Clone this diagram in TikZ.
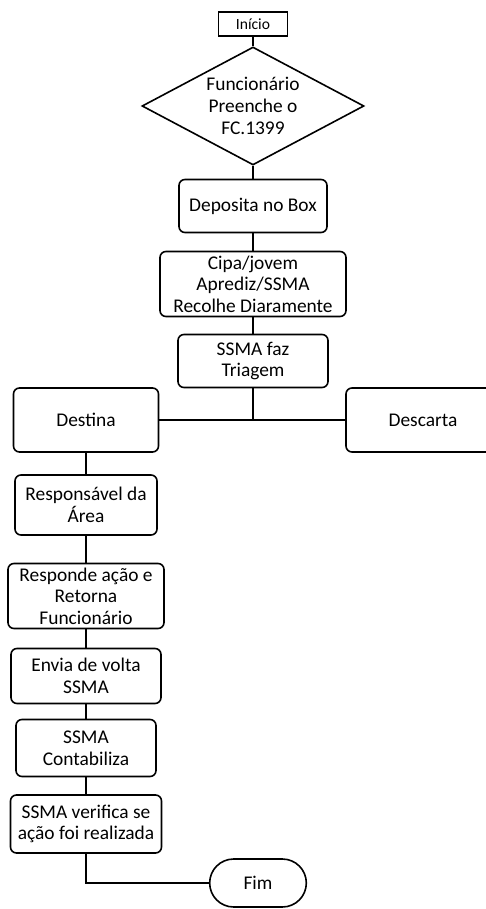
\documentclass[tikz,border=0pt]{standalone}
\usepackage{fontspec}
\setmainfont{Carlito}
\usetikzlibrary{shapes.geometric,shapes.misc,positioning}

\begin{document}
\begin{tikzpicture}[node distance=40pt,on grid,
    every node/.style={font=\fontsize{9.7}{10.8}\selectfont,align=center},
    etapa/.style={draw,line width=0.8pt,rounded corners=3pt,inner sep=0pt},
    fluxo/.style={line width=1.3pt}]
   \useasboundingbox (-126.5pt,12pt) rectangle (116.5pt,-442.5pt);
   \node[draw,line width=0.8pt,minimum width=34.5pt,minimum height=12pt,inner sep=0pt,
         font=\fontsize{7.8}{9}\selectfont] (inicio) {Início};
   \node[draw,diamond,line width=0.8pt,aspect=1.9,inner sep=0pt,
         minimum width=111pt,minimum height=59pt] (fc) [below=41pt of inicio]
         {Funcionário\\Preenche o\\FC.1399};
   \node[etapa,minimum width=74pt,minimum height=26.5pt] (dep) [below=50pt of fc] {Deposita no Box};
   \node[etapa,minimum width=93pt,minimum height=32.5pt] (cipa) [below=39pt of dep]
         {Cipa/jovem\\Aprediz/SSMA\\Recolhe Diaramente};
   \node[etapa,minimum width=75pt,minimum height=26.5pt] (triagem) [below=38.5pt of cipa] {SSMA faz\\Triagem};
   \node[etapa,minimum width=72.5pt,minimum height=32pt] (destina) [below left=29.5pt and 83.5pt of triagem] {Destina};
   \node[etapa,minimum width=77pt,minimum height=32pt] (descarta) [below right=29.5pt and 85pt of triagem] {Descarta};
   \node[etapa,minimum width=71pt,minimum height=30pt] (resp) [below=42.5pt of destina] {Responsável da\\Área};
   \node[etapa,minimum width=78pt,minimum height=32.5pt] (responde) [below=45.5pt of resp]
         {Responde ação e\\Retorna\\Funcionário};
   \node[etapa,minimum width=75pt,minimum height=27.5pt] (envia) [below=40pt of responde] {Envia de volta\\SSMA};
   \node[etapa,minimum width=70pt,minimum height=28.5pt] (contab) [below=36pt of envia] {SSMA\\Contabiliza};
   \node[etapa,minimum width=75.5pt,minimum height=29pt] (verifica) [below=38pt of contab]
         {SSMA verifica se\\ação foi realizada};
   \node[draw,rounded rectangle,line width=0.8pt,minimum width=55pt,minimum height=24pt]
         (fim) [below right=29.5pt and 86pt of verifica] {Fim};
    \path[fluxo]
      (inicio) edge (fc)
      (fc) edge (dep)
      (dep) edge (cipa)
      (cipa) edge (triagem)
      (destina) edge (resp)
      (resp) edge (responde)
      (responde) edge (envia)
      (envia) edge (contab)
      (contab) edge (verifica);
    \draw[fluxo] (triagem) |- (destina);
    \draw[fluxo] (triagem) |- (descarta);
    \draw[fluxo] (verifica) |- (fim);
\end{tikzpicture}
\end{document}
